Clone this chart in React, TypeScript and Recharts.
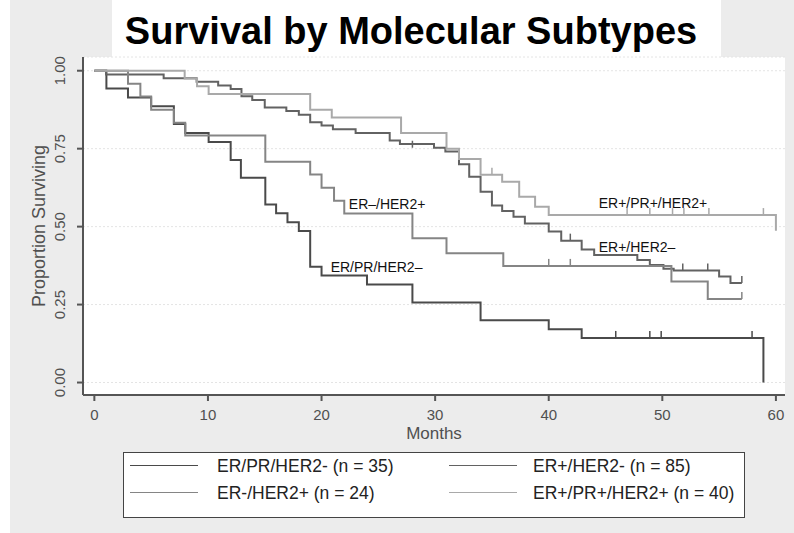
import React from 'react';
import { ComposedChart, Line, Scatter, XAxis, YAxis, CartesianGrid, ReferenceDot } from 'recharts';

// ---- data ----
const monthTicks = [0, 10, 20, 30, 40, 50, 60];
const survivalTicks = [0, 0.25, 0.5, 0.75, 1];

// ER/PR/HER2- (n = 35)
const tripleNegMonths = [0, 1.06, 2.96, 5, 7, 8, 10.06, 12, 12.9, 15.05, 16, 17, 18, 19, 20, 24, 28, 34, 40, 42.9, 58.9, 58.9];
const tripleNegSurv = [1, 0.943, 0.914, 0.886, 0.829, 0.8, 0.771, 0.714, 0.657, 0.571, 0.543, 0.514, 0.486, 0.371, 0.343, 0.314, 0.257, 0.2, 0.171, 0.143, 0.143, 0];
const tripleNegCensorMonths = [45.9, 48.9, 49.9, 57.9];
const tripleNegCensorSurv = [0.143, 0.143, 0.143, 0.143];

// ER+/HER2- (n = 85)
const erPosMonths = [0, 1.03, 6.1, 9, 10.9, 12, 12.95, 13.9, 15, 16.9, 18, 19, 20, 21, 23, 26, 26.9, 29.9, 30.9, 32.1, 33, 34, 35, 35.9, 36.9, 37.9, 40, 41.1, 42.9, 44, 47.8, 48.9, 50.1, 51, 55, 56, 57];
const erPosSurv = [1, 0.988, 0.976, 0.965, 0.953, 0.941, 0.918, 0.906, 0.882, 0.871, 0.859, 0.835, 0.824, 0.812, 0.8, 0.776, 0.765, 0.753, 0.741, 0.7, 0.66, 0.612, 0.568, 0.55, 0.532, 0.51, 0.484, 0.455, 0.427, 0.409, 0.393, 0.377, 0.365, 0.359, 0.34, 0.319, 0.319];
const erPosCensorMonths = [28, 41.9, 51.8, 54, 57];
const erPosCensorSurv = [0.753, 0.455, 0.359, 0.359, 0.319];

// ER-/HER2+ (n = 24)
const her2Months = [0, 2.96, 4.05, 5, 7, 8, 15.05, 19, 20, 21.1, 22, 28, 31, 36, 50.8, 54, 57];
const her2Surv = [1, 0.958, 0.917, 0.875, 0.833, 0.792, 0.708, 0.667, 0.625, 0.583, 0.542, 0.463, 0.415, 0.374, 0.324, 0.268, 0.268];
const her2CensorMonths = [40, 41.9, 57];
const her2CensorSurv = [0.374, 0.374, 0.268];

// ER+/PR+/HER2+ (n = 40)
const triplePosMonths = [0, 7.95, 9.04, 10.06, 19, 20.9, 27, 31, 32.1, 34, 35.9, 37.4, 38.8, 40, 60, 60];
const triplePosSurv = [1, 0.975, 0.95, 0.925, 0.875, 0.85, 0.8, 0.75, 0.717, 0.666, 0.644, 0.596, 0.564, 0.537, 0.537, 0.487];
const triplePosCensorMonths = [35, 46.9, 48.9, 50.9, 51.9, 54.1, 58.9];
const triplePosCensorSurv = [0.666, 0.537, 0.537, 0.537, 0.537, 0.537, 0.537];

const seriesNames = ['ER/PR/HER2- (n = 35)', 'ER+/HER2- (n = 85)', 'ER-/HER2+ (n = 24)', 'ER+/PR+/HER2+ (n = 40)'];
const seriesColors = ['#4a4a4a', '#626262', '#858585', '#a9a9a9'];

const curveLabels = ['ER–/HER2+', 'ER/PR/HER2–', 'ER+/PR+/HER2+', 'ER+/HER2–'];
const curveLabelMonths = [22.4, 20.8, 44.4, 44.4];
const curveLabelSurv = [0.573, 0.372, 0.575, 0.433];

const toPoints = (months: number[], surv: number[]) => months.map((m, i) => ({ month: m, surv: surv[i] }));

const seriesData = [
  toPoints(tripleNegMonths, tripleNegSurv),
  toPoints(erPosMonths, erPosSurv),
  toPoints(her2Months, her2Surv),
  toPoints(triplePosMonths, triplePosSurv),
];
const censorData = [
  toPoints(tripleNegCensorMonths, tripleNegCensorSurv),
  toPoints(erPosCensorMonths, erPosCensorSurv),
  toPoints(her2CensorMonths, her2CensorSurv),
  toPoints(triplePosCensorMonths, triplePosCensorSurv),
];

const axisFont = 'Arial, "Liberation Sans", sans-serif';

const YTick = (props: any) => {
  const { x, y, payload } = props;
  const cx = x - 15;
  return (
    <text x={cx} y={y} transform={`rotate(-90 ${cx} ${y})`} textAnchor="middle" dominantBaseline="central"
      fontSize={15} fill="#505050" fontFamily={axisFont}>
      {Number(payload.value).toFixed(2)}
    </text>
  );
};

const XTick = (props: any) => {
  const { x, y, payload } = props;
  return (
    <text x={x} y={y + 17} textAnchor="middle" fontSize={15} fill="#505050" fontFamily={axisFont}>
      {payload.value}
    </text>
  );
};

const censorShape = (color: string) => (props: any) => {
  const { cx, cy } = props;
  return <line x1={cx} x2={cx} y1={cy} y2={cy - 7} stroke={color} strokeWidth={1.5} />;
};

const YLabel = () => (
  <text x={39} y={226} transform="rotate(-90 39 226)" textAnchor="middle" dominantBaseline="central"
    fontSize={18} fill="#505050" fontFamily={axisFont}>
    Proportion Surviving
  </text>
);

export default function App() {
  const legendRows = [[0, 1], [2, 3]];
  return (
    <div style={{ position: 'absolute', left: 0, top: 0, width: 794, height: 533, background: '#fff', overflow: 'hidden' }}>
      <div style={{ position: 'absolute', left: 10, top: 0, width: 784, height: 533, background: '#ececec' }} />
      <div style={{ position: 'absolute', left: 112, top: 0, width: 609, height: 57, background: '#fff' }} />
      <div style={{
        position: 'absolute', left: 0, top: 0, width: 794, height: 57, textAlign: 'center',
        fontFamily: axisFont, fontWeight: 'bold', fontSize: 38, lineHeight: '62px', color: '#000', paddingLeft: 28, boxSizing: 'border-box',
      }}>
        Survival by Molecular Subtypes
      </div>
      <div style={{ position: 'absolute', left: 0, top: 0 }}>
        <ComposedChart width={794} height={533} margin={{ top: 57, right: 9, bottom: 0, left: 0 }}>
          <CartesianGrid vertical={false} horizontal={true} fill="#ffffff" stroke="#e4e4e4" strokeDasharray="2 2" />
          <XAxis dataKey="month" type="number" domain={[-1, 60.8]} ticks={monthTicks} allowDataOverflow
            height={138} stroke="#555" strokeWidth={2} tickSize={6} tick={<XTick />}
            label={{ value: 'Months', position: 'insideTop', offset: 32, fontSize: 17, fill: '#505050', fontFamily: axisFont }} />
          <YAxis dataKey="surv" type="number" domain={[-0.04, 1.044]} ticks={survivalTicks} allowDataOverflow
            width={83} stroke="#555" strokeWidth={2} tickSize={6} tick={<YTick />} label={<YLabel />} />
          {seriesData.map((d, i) => (
            <Line key={'l' + i} data={d} dataKey="surv" type="stepAfter" stroke={seriesColors[i]} strokeWidth={2}
              dot={false} activeDot={false} isAnimationActive={false} name={seriesNames[i]} />
          ))}
          {censorData.map((d, i) => (
            <Scatter key={'c' + i} data={d} dataKey="surv" shape={censorShape(seriesColors[i])} isAnimationActive={false} />
          ))}
          {curveLabels.map((t, i) => (
            <ReferenceDot key={'t' + i} x={curveLabelMonths[i]} y={curveLabelSurv[i]} r={0} fill="none" stroke="none"
              label={{ value: t, position: 'right', offset: 0, fontSize: 14, fill: '#111', fontFamily: axisFont }} />
          ))}
        </ComposedChart>
      </div>
      <div style={{ position: 'absolute', left: 123, top: 452, width: 622, height: 66, background: '#fff', border: '1.5px solid #444', boxSizing: 'border-box' }}>
        {legendRows.map((row, r) => row.map((si, c) => (
          <React.Fragment key={si}>
            <div style={{ position: 'absolute', left: c === 0 ? 6 : 325, top: (r === 0 ? 13 : 40) - 1, width: 68, height: 0, borderTop: `1.5px solid ${seriesColors[si]}` }} />
            <div style={{ position: 'absolute', left: c === 0 ? 93 : 409, top: (r === 0 ? 13 : 40) - 12, height: 24, lineHeight: '24px', fontFamily: axisFont, fontSize: 17.5, color: '#222', whiteSpace: 'nowrap' }}>
              {seriesNames[si]}
            </div>
          </React.Fragment>
        )))}
      </div>
    </div>
  );
}
